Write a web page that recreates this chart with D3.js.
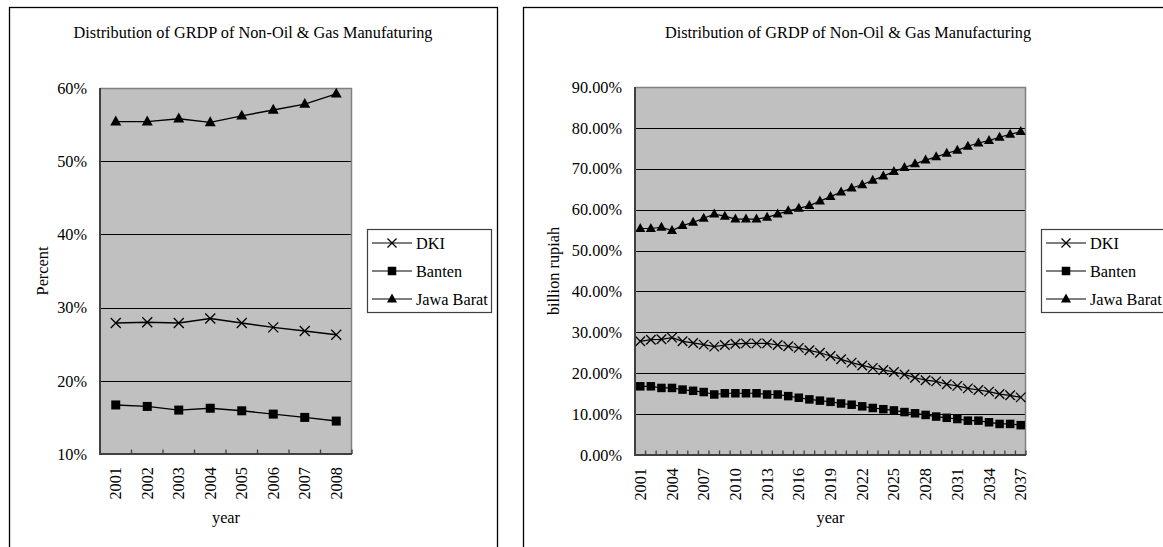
<!DOCTYPE html>
<html>
<head>
<meta charset="utf-8">
<script src="https://cdn.jsdelivr.net/npm/d3@7"></script>
<style>
  body { margin: 0; background: #fff; }
  svg { display: block; font-family: "Liberation Serif", "Times New Roman", serif; }
</style>
</head>
<body>
<svg id="chart" width="1163" height="547"></svg>
<script>
// ---- Short-range chart (2001-2008) ----
const shortYears = ["2001", "2002", "2003", "2004", "2005", "2006", "2007", "2008"];
const shortDKI       = [27.9, 28.0, 27.9, 28.5, 27.9, 27.3, 26.8, 26.3];
const shortBanten    = [16.7, 16.5, 16.0, 16.25, 15.9, 15.45, 15.0, 14.5];
const shortJawaBarat = [55.4, 55.4, 55.8, 55.3, 56.2, 57.0, 57.8, 59.2];
const shortTicks = [10, 20, 30, 40, 50, 60];

// ---- Projection chart (2001-2037) ----
const longYears = ["2001", "2002", "2003", "2004", "2005", "2006", "2007", "2008", "2009", "2010",
  "2011", "2012", "2013", "2014", "2015", "2016", "2017", "2018", "2019", "2020",
  "2021", "2022", "2023", "2024", "2025", "2026", "2027", "2028", "2029", "2030",
  "2031", "2032", "2033", "2034", "2035", "2036", "2037"];
const longYearLabels = ["2001", "2004", "2007", "2010", "2013", "2016", "2019", "2022",
  "2025", "2028", "2031", "2034", "2037"];
const longDKI = [27.8, 28.2, 28.3, 28.7, 27.8, 27.4, 27.0, 26.5, 26.9, 27.2,
  27.3, 27.3, 27.3, 26.9, 26.6, 26.2, 25.6, 25.0, 24.2, 23.4,
  22.6, 21.9, 21.3, 20.8, 20.3, 19.7, 18.9, 18.3, 18.0, 17.3,
  16.9, 16.3, 15.9, 15.5, 14.9, 14.6, 14.1];
const longBanten = [16.8, 16.8, 16.4, 16.4, 16.0, 15.7, 15.4, 14.8, 15.1, 15.1,
  15.1, 15.1, 14.8, 14.8, 14.4, 14.0, 13.6, 13.3, 13.0, 12.6,
  12.3, 11.9, 11.5, 11.2, 10.9, 10.5, 10.2, 9.8, 9.4, 9.1,
  8.8, 8.4, 8.4, 8.0, 7.6, 7.6, 7.3];
const longJawaBarat = [55.4, 55.4, 55.7, 54.9, 56.1, 56.9, 57.9, 58.9, 58.4, 57.7,
  57.7, 57.7, 58.1, 58.9, 59.7, 60.3, 61.0, 62.1, 63.2, 64.3,
  65.3, 66.1, 67.2, 68.2, 69.3, 70.3, 71.2, 72.1, 72.9, 73.8,
  74.5, 75.5, 76.3, 76.9, 77.7, 78.4, 79.1];
const longTicks = [0, 10, 20, 30, 40, 50, 60, 70, 80, 90];

const seriesNames = ["DKI", "Banten", "Jawa Barat"];
const seriesMarkers = ["x", "square", "triangle"];

const svg = d3.select("#chart");

// draw one marker shape centred at the origin of `sel`
function marker(sel, type, size) {
  if (type === "x") {
    const s = size / 2;
    sel.append("path")
      .attr("d", `M${-s},${-s}L${s},${s}M${-s},${s}L${s},${-s}`)
      .attr("stroke", "#000").attr("stroke-width", 1.3).attr("fill", "none");
  } else if (type === "square") {
    sel.append("rect")
      .attr("x", -size / 2).attr("y", -size / 2)
      .attr("width", size).attr("height", size)
      .attr("fill", "#000");
  } else {
    const w = size, h = size * 0.9;
    sel.append("path")
      .attr("d", `M0,${-h * 0.62}L${w / 2},${h * 0.38}L${-w / 2},${h * 0.38}Z`)
      .attr("fill", "#000");
  }
}

function drawPanel(cfg) {
  const g = svg.append("g");

  // outer chart frame
  g.append("rect")
    .attr("x", cfg.frame.x + 0.5).attr("y", cfg.frame.y + 0.5)
    .attr("width", cfg.frame.w).attr("height", cfg.frame.h)
    .attr("fill", "#fff").attr("stroke", "#000").attr("stroke-width", 1.3);

  const x = d3.scaleBand().domain(cfg.years).range([cfg.plot.x0, cfg.plot.x1]).padding(0);
  const y = d3.scaleLinear().domain(cfg.yDomain).range([cfg.plot.y1, cfg.plot.y0]);

  // plot background
  g.append("rect")
    .attr("x", cfg.plot.x0).attr("y", cfg.plot.y0)
    .attr("width", cfg.plot.x1 - cfg.plot.x0).attr("height", cfg.plot.y1 - cfg.plot.y0)
    .attr("fill", "#c0c0c0");

  // horizontal gridlines
  g.append("g").selectAll("line")
    .data(cfg.ticks.slice(1, -1))
    .join("line")
    .attr("x1", cfg.plot.x0).attr("x2", cfg.plot.x1)
    .attr("y1", d => Math.round(y(d)) + 0.5).attr("y2", d => Math.round(y(d)) + 0.5)
    .attr("stroke", "#000").attr("stroke-width", 1.1);

  // top and right edge of the plot area
  g.append("path")
    .attr("d", `M${cfg.plot.x0},${cfg.plot.y0 + 0.5}H${cfg.plot.x1 - 0.5}V${cfg.plot.y1}`)
    .attr("fill", "none").attr("stroke", "#808080").attr("stroke-width", 1.5);

  // series lines and markers
  cfg.series.forEach((vals, si) => {
    const line = d3.line()
      .x((d, i) => x(cfg.years[i]) + x.bandwidth() / 2)
      .y(d => y(d));
    g.append("path")
      .datum(vals)
      .attr("d", line)
      .attr("fill", "none").attr("stroke", "#000").attr("stroke-width", cfg.lineWidth);
    g.append("g").selectAll("g")
      .data(vals)
      .join("g")
      .attr("transform", (d, i) => `translate(${x(cfg.years[i]) + x.bandwidth() / 2},${y(d)})`)
      .each(function () { marker(d3.select(this), seriesMarkers[si], cfg.markerSize[si]); });
  });

  // value axis
  const yAxis = d3.axisLeft(y)
    .tickValues(cfg.ticks)
    .tickSize(0)
    .tickPadding(cfg.plot.x0 - cfg.labelRight)
    .tickFormat(cfg.tickFormat);
  const ya = g.append("g").attr("transform", `translate(${cfg.plot.x0},0)`).call(yAxis);
  ya.select(".domain").remove();
  ya.selectAll("text")
    .attr("font-family", "Liberation Serif").attr("font-size", cfg.fontSize).attr("fill", "#000");

  // category axis labels (rotated)
  const xAxis = d3.axisBottom(x)
    .tickValues(cfg.labels)
    .tickSize(0)
    .tickPadding(0);
  const xa = g.append("g").attr("transform", `translate(0,${cfg.plot.y1})`).call(xAxis);
  xa.select(".domain").remove();
  xa.selectAll("text")
    .attr("font-family", "Liberation Serif").attr("font-size", cfg.fontSize).attr("fill", "#000")
    .attr("text-anchor", "end")
    .attr("transform", "rotate(-90)")
    .attr("x", -13).attr("y", 0).attr("dy", "0.34em");

  // category boundary ticks, pointing into the plot
  const bounds = cfg.years.map(d => x(d)).concat([cfg.plot.x1]);
  g.append("g").selectAll("line")
    .data(bounds)
    .join("line")
    .attr("x1", d => d).attr("x2", d => d)
    .attr("y1", cfg.plot.y1).attr("y2", cfg.plot.y1 - 4.5)
    .attr("stroke", "#404040").attr("stroke-width", 1.3);

  // left and bottom axis lines
  g.append("path")
    .attr("d", `M${cfg.plot.x0},${cfg.plot.y0}V${cfg.plot.y1}H${cfg.plot.x1}`)
    .attr("fill", "none").attr("stroke", "#404040").attr("stroke-width", 2);

  // titles
  g.append("text")
    .attr("x", cfg.titleX).attr("y", 38)
    .attr("text-anchor", "middle")
    .attr("font-size", cfg.fontSize)
    .text(cfg.title);
  g.append("text")
    .attr("transform", `translate(${cfg.yLabelX},${(cfg.plot.y0 + cfg.plot.y1) / 2}) rotate(-90)`)
    .attr("text-anchor", "middle").attr("dy", "0.34em")
    .attr("font-size", cfg.fontSize)
    .text(cfg.yLabel);
  g.append("text")
    .attr("x", (cfg.plot.x0 + cfg.plot.x1) / 2).attr("y", 523)
    .attr("text-anchor", "middle")
    .attr("font-size", cfg.fontSize)
    .text("year");

  // legend
  const lg = g.append("g").attr("transform", `translate(${cfg.legend.x},${cfg.legend.y})`);
  lg.append("rect")
    .attr("x", 0.5).attr("y", 0.5)
    .attr("width", cfg.legend.w).attr("height", cfg.legend.h)
    .attr("fill", "#fff").attr("stroke", "#404040").attr("stroke-width", 1.2);
  seriesNames.forEach((name, i) => {
    const row = lg.append("g").attr("transform", `translate(0,${14 + i * 28})`);
    row.append("line")
      .attr("x1", 5).attr("x2", 45).attr("y1", 0).attr("y2", 0)
      .attr("stroke", "#000").attr("stroke-width", 1.2);
    marker(row.append("g").attr("transform", "translate(25,0)"), seriesMarkers[i], cfg.legendMarkerSize[i]);
    row.append("text")
      .attr("x", 49).attr("y", 0).attr("dy", "0.34em")
      .attr("font-size", cfg.fontSize)
      .text(name);
  });
}

drawPanel({
  frame: { x: 9, y: 7, w: 488, h: 600 },
  plot: { x0: 100, x1: 352, y0: 88, y1: 454 },
  legend: { x: 367, y: 229, w: 124, h: 83 },
  years: shortYears,
  labels: shortYears,
  series: [shortDKI, shortBanten, shortJawaBarat],
  yDomain: [10, 60],
  ticks: shortTicks,
  tickFormat: d => d + "%",
  labelRight: 87,
  title: "Distribution of GRDP of Non-Oil & Gas Manufaturing",
  titleX: 253,
  yLabel: "Percent",
  yLabelX: 42,
  fontSize: 16.3,
  lineWidth: 1.4,
  markerSize: [10, 9, 11],
  legendMarkerSize: [9, 8.5, 10]
});

drawPanel({
  frame: { x: 523, y: 7, w: 650, h: 600 },
  plot: { x0: 635, x1: 1026, y0: 87, y1: 455 },
  legend: { x: 1041, y: 229, w: 130, h: 83 },
  years: longYears,
  labels: longYearLabels,
  series: [longDKI, longBanten, longJawaBarat],
  yDomain: [0, 90],
  ticks: longTicks,
  tickFormat: d => d.toFixed(2) + "%",
  labelRight: 622,
  title: "Distribution of GRDP of Non-Oil & Gas Manufacturing",
  titleX: 848,
  yLabel: "billion rupiah",
  yLabelX: 553,
  fontSize: 16.3,
  lineWidth: 1.2,
  markerSize: [9.5, 8.5, 10],
  legendMarkerSize: [9, 8.5, 10]
});
</script>
</body>
</html>
